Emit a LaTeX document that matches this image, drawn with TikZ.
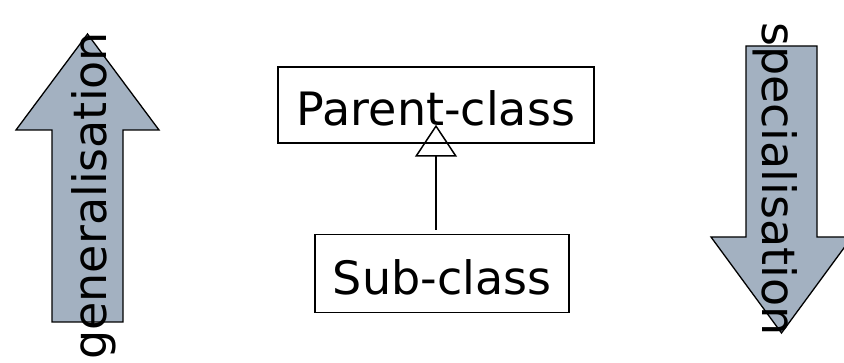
\documentclass[tikz,border=0pt]{standalone}
\usepackage{fontspec}
\setmainfont{DejaVu Sans}
\usepackage{tikz}
\usetikzlibrary{arrows.meta,positioning}
\definecolor{arrowgray}{RGB}{163,177,193}
\tikzset{
  bigfont/.style    = {font=\fontsize{46pt}{55pt}\selectfont},
  classbox/.style   = {bigfont, draw, line width=1.5pt, text height=42pt,
                       text depth=0pt, inner sep=0pt},
  fat arrow/.style  = {draw, line width=1.3pt, fill=arrowgray, line join=miter},
  side label/.style = {bigfont, inner sep=0pt, anchor=base west},
  inherits/.style   = {line width=1.5pt, -{Triangle[open, length=32pt, width=42pt]}}
}
\begin{document}
\begin{tikzpicture}[x=1pt, y=1pt]
\useasboundingbox (0,0) rectangle (844,-363);

% the two big arrows at the sides
\draw[fat arrow] (52,-322) -- (52,-130) -- (16,-130) -- (87.5,-34)
  -- (159,-130) -- (123,-130) -- (123,-322) -- cycle;
\draw[fat arrow] (746,-46) -- (746,-237) -- (711,-237) -- (781.5,-333)
  -- (852,-237) -- (817,-237) -- (817,-46) -- cycle;

% their labels, running along them
\node[side label, rotate=90] (gen) at (106,-360) {generalisation};
\node[side label, rotate=-90] (spec) at (762,-22) {specialisation};

% the two classes
\node[classbox, minimum width=316pt, minimum height=76pt] (parent) at (436,-105) {Parent-class};
\node[classbox, minimum width=254pt, minimum height=78pt,
      below=90pt of parent, xshift=6pt] (sub) {Sub-class};

% inheritance link
\draw[inherits, shorten <=4pt, shorten >=-19pt] (sub.north -| parent.south) -- (parent.south);

\end{tikzpicture}
\end{document}
